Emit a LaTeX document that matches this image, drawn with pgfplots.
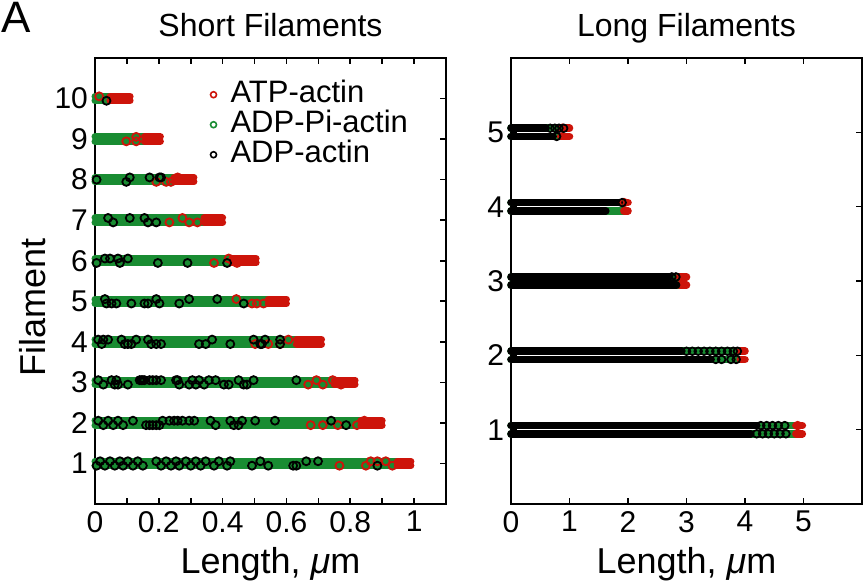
\documentclass[border=0pt]{standalone}
\usepackage{fontspec}
\setmainfont{Liberation Sans}
\usepackage{pgfplots}
\pgfplotsset{compat=1.18}
\definecolor{gr}{RGB}{25,140,50}
\definecolor{rd}{RGB}{205,20,10}
\pgfplotsset{
  myax/.style={scale only axis, width=175.5pt, height=223pt,
    axis line style={line width=1pt}, tick style={line width=0.8pt, black},
    tick align=inside, major tick length=3pt, xtick pos=both, ytick pos=both,
    clip=false, unbounded coords=jump,
    /pgf/number format/assume math mode=true,
    ticklabel style={font=\fontsize{15}{17}\selectfont},
    title style={font=\fontsize{16}{19}\selectfont, at={(axis description cs:0.5,1)}, anchor=base, yshift=5pt},
    xlabel style={font=\fontsize{18}{21}\selectfont, at={(axis description cs:0.5,0)}, anchor=base, yshift=-34.5pt},
    ylabel style={font=\fontsize{18}{21}\selectfont, at={(axis description cs:-0.142,0.44)}, anchor=base},
  },
  band/.style={line width=#1, line cap=round, forget plot},
  circ/.style={only marks, mark=o, mark size=#1, line width=0.9pt, forget plot},
}
\begin{document}
\begin{tikzpicture}
\path[use as bounding box] (-47.5pt,-41pt) rectangle (386pt,252pt);
\node[anchor=base west, inner sep=0pt, font=\fontsize{22}{26}\selectfont] at (-47pt,236pt) {A};
% ---------------- Short filaments ----------------
\begin{axis}[myax, at={(0pt,0pt)}, anchor=south west,
  xmin=0, xmax=1.1, ymin=0, ymax=11,
  xtick={0,0.1,...,1.05}, xticklabels={0,,0.2,,0.4,,0.6,,0.8,,1},
  ytick={1,...,10},
  title={Short Filaments}, xlabel={Length, {\itshape μ}m}, ylabel={Filament},
  legend style={at={(axis description cs:0.328,0.950)}, anchor=north west, draw=none, fill=none,
    font=\fontsize{15.5}{18}\selectfont, row sep=1pt, inner sep=0pt,
    nodes={inner sep=0pt, text height=11pt, text depth=3pt},
    /tikz/every odd column/.append style={column sep=7pt}},
  legend cell align=left,
  legend image code/.code={\draw[#1] plot coordinates {(0pt,0pt)};},
]
\addlegendimage{only marks, mark=o, rd, mark size=1.5pt, line width=0.8pt}
\addlegendentry{ATP-actin}
\addlegendimage{only marks, mark=o, gr, mark size=1.5pt, line width=0.8pt}
\addlegendentry{ADP-Pi-actin}
\addlegendimage{only marks, mark=o, black, mark size=1.5pt, line width=0.8pt}
\addlegendentry{ADP-actin}
% green bands
\addplot[gr, band=3.5pt] coordinates {
(0,1.055)(0.947,1.055)(0,nan)(0,0.945)(0.947,0.945)(0,nan)
(0,2.055)(0.833,2.055)(0,nan)(0,1.945)(0.833,1.945)(0,nan)
(0,3.055)(0.750,3.055)(0,nan)(0,2.945)(0.750,2.945)(0,nan)
(0,4.055)(0.631,4.055)(0,nan)(0,3.945)(0.631,3.945)(0,nan)
(0,5.055)(0.543,5.055)(0,nan)(0,4.945)(0.543,4.945)(0,nan)
(0,6.055)(0.429,6.055)(0,nan)(0,5.945)(0.429,5.945)(0,nan)
(0,7.055)(0.342,7.055)(0,nan)(0,6.945)(0.342,6.945)(0,nan)
(0,8.055)(0.248,8.055)(0,nan)(0,7.945)(0.248,7.945)(0,nan)
(0,9.055)(0.155,9.055)(0,nan)(0,8.945)(0.155,8.945)(0,nan)
(0,10.055)(0.047,10.055)(0,nan)(0,9.945)(0.047,9.945)
};
% red solid ends
\addplot[rd, band=3.5pt] coordinates {
(0.947,1.055)(0.99,1.055)(0,nan)(0.947,0.945)(0.99,0.945)(0,nan)
(0.833,2.055)(0.90,2.055)(0,nan)(0.833,1.945)(0.90,1.945)(0,nan)
(0.750,3.055)(0.815,3.055)(0,nan)(0.750,2.945)(0.815,2.945)(0,nan)
(0.631,4.055)(0.71,4.055)(0,nan)(0.631,3.945)(0.71,3.945)(0,nan)
(0.543,5.055)(0.60,5.055)(0,nan)(0.543,4.945)(0.60,4.945)(0,nan)
(0.429,6.055)(0.505,6.055)(0,nan)(0.429,5.945)(0.505,5.945)(0,nan)
(0.342,7.055)(0.40,7.055)(0,nan)(0.342,6.945)(0.40,6.945)(0,nan)
(0.248,8.055)(0.31,8.055)(0,nan)(0.248,7.945)(0.31,7.945)(0,nan)
(0.155,9.055)(0.205,9.055)(0,nan)(0.155,8.945)(0.205,8.945)(0,nan)
(0.047,10.055)(0.11,10.055)(0,nan)(0.047,9.945)(0.11,9.945)
};
% red circles
\addplot[rd, circ=2pt] coordinates {
(0.766,0.945)(0.849,0.945)(0.864,1.055)(0.885,1.055)(0.911,1.055)(0.932,0.945)
(0.676,1.945)(0.714,1.945)(0.761,1.945)(0.821,1.945)(0.844,2.055)
(0.668,2.945)(0.694,3.055)(0.714,2.945)(0.745,3.055)(0.771,2.945)
(0.502,3.945)(0.543,3.945)(0.580,3.945)(0.606,4.055)
(0.443,5.055)(0.492,4.945)(0.507,4.945)(0.528,4.945)
(0.373,5.945)(0.419,6.055)(0.445,5.945)
(0.233,6.945)(0.274,7.055)(0.295,6.945)(0.321,6.945)
(0.192,7.945)(0.223,7.945)(0.238,7.945)(0.259,8.055)
(0.098,8.945)(0.129,9.055)(0.129,8.945)
(0.013,10.055)
};
% black circles
\addplot[black, circ=2pt] coordinates {
(0.005,0.945)(0.016,1.055)(0.031,0.945)(0.047,1.055)(0.062,0.945)(0.078,1.055)(0.088,0.945)(0.103,1.055)(0.119,0.945)(0.134,1.055)(0.150,0.945)(0.192,1.055)(0.207,0.945)(0.223,1.055)(0.238,0.945)(0.254,1.055)(0.264,0.945)(0.285,1.055)(0.300,0.945)(0.316,1.055)(0.331,0.945)(0.347,1.055)(0.373,0.945)(0.388,1.055)(0.414,0.945)(0.424,1.055)(0.492,0.945)(0.518,1.055)(0.543,0.945)(0.621,0.945)(0.631,0.945)(0.662,1.055)(0.699,1.055)(0.885,0.945)
(0.010,2.055)(0.026,1.945)(0.041,2.055)(0.057,1.945)(0.072,2.055)(0.088,1.945)(0.119,2.055)(0.160,1.945)(0.171,1.945)(0.181,1.945)(0.192,1.945)(0.202,1.945)(0.212,2.055)(0.233,2.055)(0.248,2.055)(0.259,2.055)(0.274,2.055)(0.295,2.055)(0.311,2.055)(0.362,2.055)(0.378,1.945)(0.424,2.055)(0.435,1.945)(0.450,1.945)(0.461,2.055)(0.502,2.055)(0.564,2.055)(0.740,2.055)(0.787,1.945)
(0.010,3.055)(0.026,2.945)(0.052,3.055)(0.062,2.945)(0.067,3.055)(0.072,2.945)(0.103,2.945)(0.140,3.055)(0.145,3.055)(0.150,3.055)(0.155,3.055)(0.171,3.055)(0.181,3.055)(0.192,3.055)(0.207,3.055)(0.254,3.055)(0.259,3.055)(0.264,2.945)(0.295,2.945)(0.305,3.055)(0.316,2.945)(0.326,3.055)(0.342,2.945)(0.357,3.055)(0.378,3.055)(0.404,2.945)(0.419,2.945)(0.450,3.055)(0.466,2.945)(0.476,2.945)(0.497,3.055)(0.631,3.055)
(0.010,4.055)(0.021,3.945)(0.026,4.055)(0.041,4.055)(0.083,4.055)(0.093,3.945)(0.103,3.945)(0.114,3.945)(0.129,4.055)(0.166,4.055)(0.176,3.945)(0.192,3.945)(0.207,3.945)(0.326,3.945)(0.347,3.945)(0.367,4.055)(0.424,3.945)(0.497,4.055)(0.518,3.945)(0.523,3.945)(0.533,4.055)(0.580,4.055)(0.580,3.945)
(0.031,5.055)(0.036,4.945)(0.052,4.945)(0.067,4.945)(0.114,4.945)(0.155,4.945)(0.166,4.945)(0.192,5.055)(0.202,4.945)(0.264,4.945)(0.295,5.055)(0.383,5.055)(0.466,4.945)
(0.005,5.945)(0.031,6.055)(0.047,6.055)(0.072,6.055)(0.078,5.945)(0.103,6.055)(0.197,5.945)(0.290,5.945)(0.414,5.945)
(0.041,7.055)(0.057,6.945)(0.109,7.055)(0.155,7.055)(0.166,6.945)(0.192,6.945)
(0.005,8.0)(0.098,7.945)(0.109,8.055)(0.171,8.055)(0.202,8.055)(0.207,8.055)
(0.036,9.945)
};
\end{axis}
% ---------------- Long filaments ----------------
\begin{axis}[myax, at={(208pt,0pt)}, anchor=south west,
  xmin=0, xmax=6, ymin=0, ymax=6,
  xtick={0,...,6}, xticklabels={0,1,2,3,4,5,},
  ytick={1,...,5},
  title={Long Filaments}, xlabel={Length, {\itshape μ}m},
]
% green
\addplot[gr, band=3.8pt] coordinates {
(0,1.055)(4.87,1.055)(0,nan)(0,0.945)(4.87,0.945)(0,nan)
(0,2.055)(3.92,2.055)(0,nan)(0,1.945)(3.92,1.945)(0,nan)
(0,3.055)(2.88,3.055)(0,nan)(0,2.945)(2.88,2.945)(0,nan)
(0,4.055)(1.96,4.055)(0,nan)(0,3.945)(1.93,3.945)(0,nan)
(0,5.055)(0.93,5.055)(0,nan)(0,4.945)(0.85,4.945)
};
% red
\addplot[rd, band=3.8pt] coordinates {
(4.87,1.055)(4.98,1.055)(0,nan)(4.87,0.945)(4.98,0.945)(0,nan)
(3.92,2.055)(4.0,2.055)(0,nan)(3.92,1.945)(4.0,1.945)(0,nan)
(2.88,3.055)(3.0,3.055)(0,nan)(2.88,2.945)(3.0,2.945)(0,nan)
(1.96,4.055)(2.0,4.055)(0,nan)(1.93,3.945)(2.0,3.945)(0,nan)
(0.93,5.055)(1.0,5.055)(0,nan)(0.85,4.945)(1.0,4.945)
};
% dense black
\addplot[black, band=3.8pt] coordinates {
(0,1.055)(4.2,1.055)(0,nan)(0,0.945)(4.1,0.945)(0,nan)
(0,2.055)(2.92,2.055)(0,nan)(0,1.945)(3.42,1.945)(0,nan)
(0,3.055)(2.70,3.055)(0,nan)(0,2.945)(2.83,2.945)(0,nan)
(0,4.055)(1.85,4.055)(0,nan)(0,3.945)(1.62,3.945)(0,nan)
(0,5.055)(0.60,5.055)(0,nan)(0,4.945)(0.72,4.945)
};
\addplot[rd, circ=1.9pt] coordinates {
(4.9,1.055)(1.93,4.055)(0.88,5.055)
};
\addplot[black, circ=1.9pt] coordinates {
(4.27,1.055)(4.37,1.055)(4.47,1.055)(4.57,1.055)(4.68,1.055)
(4.2,0.945)(4.3,0.945)(4.4,0.945)(4.5,0.945)(4.6,0.945)(4.7,0.945)
(3.0,2.055)(3.1,2.055)(3.2,2.055)(3.3,2.055)(3.4,2.055)(3.5,2.055)(3.6,2.055)(3.7,2.055)(3.8,2.055)(3.87,2.055)
(3.5,1.945)(3.6,1.945)(3.76,1.945)(3.85,1.945)
(2.75,3.055)(2.82,3.055)
(1.9,4.055)
(0.67,5.055)(0.75,5.055)(0.82,5.055)(0.9,5.055)
(0.78,4.945)
};
\end{axis}
\end{tikzpicture}
\end{document}
